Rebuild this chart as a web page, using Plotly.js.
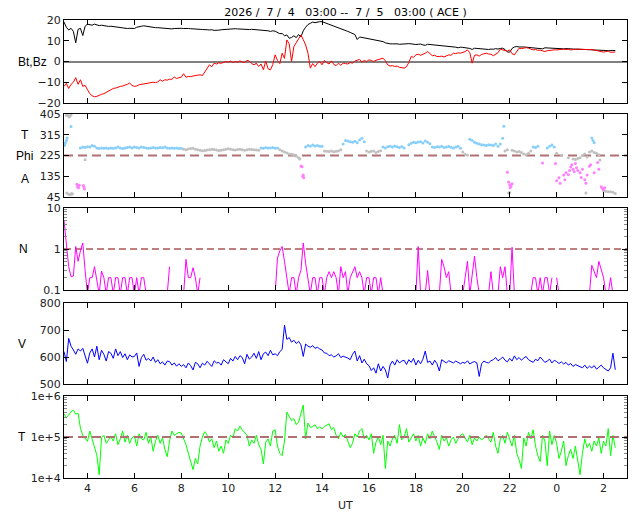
<!DOCTYPE html>
<html>
<head>
<meta charset="utf-8">
<script src="https://cdn.plot.ly/plotly-3.0.1.min.js"></script>
<style>
  html, body { margin: 0; padding: 0; background: #fff; }
  #chart { width: 640px; height: 512px; }
</style>
</head>
<body>
<div id="chart"></div>
<script>
// ACE solar wind summary, 2026/7/4 03:00 -- 7/5 03:00
// hours are counted from 00 UT on 7/4 (so 26 = 02 UT on 7/5)

const HOUR0 = 3;
const STEP = 0.1;

const xTickVals = [4, 6, 8, 10, 12, 14, 16, 18, 20, 22, 24, 26];
const xTickText = ['4', '6', '8', '10', '12', '14', '16', '18', '20', '22', '0', '2'];

// IMF magnitude (nT), one value per 6 min
const bt = [
  19.0, 16.5, 15.2, 16.0, 14.5, 9.0, 15.5, 16.0, 12.5, 17.0,
  18.0, 17.8, 17.5, 18.0, 17.6, 17.3, 17.5, 17.2, 17.0, 16.9,
  17.0, 16.8, 16.7, 16.5, 16.4, 16.2, 16.0, 15.9, 16.0, 15.8,
  15.9, 16.5, 16.6, 17.0, 17.2, 17.0, 16.6, 16.4, 16.2, 16.3,
  16.3, 16.2, 16.1, 15.9, 15.8, 15.6, 15.7, 15.9, 16.0, 16.0,
  16.0, 15.9, 16.0, 15.9, 15.8, 15.8, 15.8, 15.6, 15.5, 15.4,
  15.2, 15.3, 15.2, 15.3, 15.0, 14.9, 15.1, 15.3, 15.4, 15.6,
  15.6, 15.8, 15.8, 15.8, 15.7, 15.6, 15.7, 15.6, 15.5, 15.4,
  15.5, 15.4, 15.3, 15.1, 15.0, 15.2, 15.0, 14.8, 14.5, 14.8,
  14.6, 14.0, 13.4, 13.5, 12.4, 12.8, 11.2, 11.6, 12.4, 11.5,
  13.0, 11.8, 14.8, 16.5, 17.8, 18.4, 19.0, 18.7, 19.0, 19.2,
  19.2, 18.8, 18.4, 18.0, 17.6, 17.2, 16.8, 16.4, 15.8, 15.4,
  15.0, 14.5, 14.0, 13.6, 13.0, 10.6, 11.8, 11.6, 11.4, 11.2,
  11.0, 10.8, 10.6, 10.4, 10.2, 10.0, 9.6, 9.0, 8.6, 8.5,
  8.5, 8.6, 8.5, 8.3, 8.4, 8.6, 8.5, 8.6, 8.5, 8.3,
  8.2, 8.3, 8.4, 8.0, 7.8, 8.3, 8.2, 8.1, 7.9, 7.6,
  7.6, 7.5, 7.3, 7.2, 7.3, 7.0, 7.1, 6.9, 6.6, 6.9,
  6.8, 6.7, 6.5, 6.3, 5.8, 6.4, 6.3, 6.2, 6.0, 5.9,
  5.6, 5.8, 6.0, 5.9, 6.2, 6.0, 6.3, 6.4, 5.8, 4.6,
  4.5, 6.3, 7.0, 7.2, 7.0, 7.1, 7.0, 6.9, 6.8, 6.6,
  6.8, 6.5, 6.4, 6.3, 6.1, 6.6, 6.5, 6.4, 6.3, 6.4,
  6.2, 6.3, 6.2, 6.1, 6.2, 6.0, 6.1, 6.0, 6.0, 5.9,
  6.0, 5.9, 5.8, 5.8, 5.7, 5.6, 5.6, 5.4, 5.5, 5.3,
  5.4, 5.3, 5.2, 5.4, 5.3, 5.3
];

// IMF Bz (nT)
const bz = [
  -12.0, -10.5, -13.0, -11.0, -10.0, -7.8, -11.0, -8.8, -12.0, -11.5,
  -13.6, -15.5, -16.5, -17.0, -16.8, -16.2, -15.8, -15.5, -14.8, -14.2,
  -13.6, -13.0, -12.8, -12.3, -12.0, -11.8, -11.5, -11.0, -10.4, -11.5,
  -12.0, -11.8, -11.2, -11.0, -11.0, -10.8, -10.5, -10.4, -10.0, -10.2,
  -9.8, -8.8, -9.5, -8.8, -9.0, -8.5, -8.6, -7.5, -8.2, -7.8,
  -7.5, -5.9, -7.6, -7.2, -7.3, -7.0, -6.8, -6.5, -6.4, -6.8,
  -5.2, -3.0, -1.6, -2.5, -0.8, -1.2, -0.6, -0.9, -0.3, 0.0,
  -0.3, 0.2, -0.5, 0.0, -0.4, 0.3, -0.2, -0.5, 0.5, 0.2,
  -1.0, -1.6, -0.8, -2.4, -1.2, -4.0, 0.2, -3.5, -4.0, -1.5,
  3.2, 0.5, -1.0, 4.0, 1.5, 10.4, 8.5, 0.0, 7.2, 9.0,
  11.0, 12.8, 10.5, 8.0, 4.0, -3.2, -1.0, -2.5, -0.8, 0.0,
  -1.6, 0.5, -0.5, -1.2, 0.3, -1.4, -2.0, -0.8, -1.8, -0.8,
  -1.0, -1.2, -0.5, -0.8, 0.2, 0.6, 1.0, -0.3, 0.5, 0.0,
  0.8, 0.5, 0.0, 0.6, 1.0, 1.2, 1.6, 0.3, -1.6, -2.2,
  -2.0, -2.4, -2.2, -2.8, -3.0, -3.2, -2.5, -0.5, 2.4, 2.0,
  3.2, 3.5, 3.0, 3.4, 4.0, 4.8, 3.6, 2.8, 3.0, 2.4,
  2.4, 2.6, 2.2, 2.8, 3.2, 3.0, 4.0, 3.8, 4.2, 4.0,
  4.4, 4.8, 5.6, 4.2, -0.8, 3.0, 3.2, 2.6, 3.4, 3.8,
  4.0, 3.6, 3.5, 2.8, 3.4, 4.2, 5.9, 5.6, 5.4, 5.0,
  5.6, 3.8, 3.2, 5.0, 6.4, 6.2, 6.6, 6.7, 6.4, 6.0,
  5.6, 5.8, 5.4, 5.5, 5.2, 4.8, 5.2, 5.4, 5.5, 5.6,
  5.6, 5.8, 5.7, 5.9, 5.8, 5.9, 5.6, 5.8, 5.9, 6.0,
  5.9, 5.8, 6.0, 5.9, 5.7, 5.8, 5.6, 5.4, 5.2, 5.0,
  4.5, 4.8, 5.0, 4.4, 4.6, 4.6
];

// IMF phi angle (deg), split by sector colour
const phiTowardHours = [
  3.0, 3.03, 3.06, 3.1, 3.13, 3.3,
  3.7, 3.8, 3.9, 4.0, 4.1, 4.2, 4.3, 4.4, 4.5, 4.6, 4.7, 4.8, 4.9,
  5.0, 5.1, 5.2, 5.3, 5.4, 5.5, 5.6, 5.7, 5.8, 5.9,
  6.0, 6.1, 6.2, 6.3, 6.4, 6.5, 6.6, 6.7, 6.8, 6.9,
  7.0, 7.1, 7.2, 7.3, 7.4, 7.5, 7.6, 7.7, 7.8, 7.9, 8.0,
  11.4, 11.5, 11.6, 11.7, 11.8, 11.9, 12.0, 12.1,
  13.3, 13.4, 13.5, 13.6, 13.7, 13.8, 13.9, 14.0,
  14.9, 15.0, 15.1, 15.2, 15.3, 15.4, 15.5, 15.6, 15.7, 15.8,
  16.6, 16.7, 16.8, 16.9, 17.0, 17.1, 17.2, 17.3, 17.4, 17.5,
  17.7, 17.8, 17.9, 18.0, 18.1, 18.2, 18.3, 18.4, 18.5, 18.6,
  18.7, 18.8, 18.9, 19.0, 19.1, 19.2, 19.3, 19.4, 19.5, 19.6, 19.7, 19.8, 19.9,
  20.3, 20.4, 20.5, 20.6, 20.7, 20.8, 20.9, 21.0, 21.1, 21.2, 21.3, 21.4, 21.5, 21.6, 21.7, 21.75,
  23.0, 23.1, 23.2, 23.6, 23.7, 23.8, 23.9,
  25.5, 25.55, 25.6
];
const phiTowardVals = [
  268, 272, 280, 290, 301, 351,
  258, 262, 260, 263, 262, 268, 265, 258, 255, 258, 256, 258, 255,
  257, 256, 258, 262, 258, 255, 257, 260, 262, 258,
  262, 260, 258, 262, 260, 258, 256, 258, 260, 258,
  257, 260, 259, 262, 258, 256, 258, 256, 257, 255, 256,
  258, 256, 260, 258, 257, 260, 256, 258,
  262, 268, 265, 270, 266, 268, 265, 265,
  275, 290, 288, 285, 283, 287, 280, 292, 300, 285,
  262, 258, 263, 265, 262, 266, 263, 260, 264, 258,
  272, 278, 282, 280, 284, 285, 279, 288, 283, 276,
  262, 260, 263, 262, 265, 260, 262, 264, 261, 258, 262, 265, 256,
  295, 290, 282, 278, 275, 272, 270, 268, 272, 270, 268, 275, 265, 275, 300, 352,
  262, 260, 265, 258, 265, 270, 262,
  301, 290, 280
];

const phiMixedHours = [
  3.1, 3.15, 3.18, 3.22, 3.25, 3.3,
  3.12, 3.2, 3.27, 3.32, 3.36, 3.9,
  8.1, 8.2, 8.3, 8.4, 8.5, 8.6, 8.7, 8.8, 8.9,
  9.0, 9.1, 9.2, 9.3, 9.4, 9.5, 9.6, 9.7, 9.8, 9.9,
  10.0, 10.1, 10.2, 10.3, 10.4, 10.5, 10.6, 10.7, 10.8, 10.9,
  11.0, 11.1, 11.2, 11.3,
  12.2, 12.3, 12.4, 12.5, 12.6, 12.7, 12.8, 12.9, 13.0, 13.05,
  14.1, 14.2, 14.3, 14.4, 14.5, 14.6, 14.7, 14.8,
  15.9, 16.0, 16.1, 16.2, 16.3, 16.4, 16.5,
  20.0, 20.1, 20.2,
  21.8, 21.9, 21.95, 22.0,
  22.1, 22.2, 22.3, 22.4, 22.5, 22.6, 22.7, 22.8, 22.9,
  24.0, 24.2, 24.5, 24.7, 24.8, 24.9, 25.0, 25.1, 25.2, 25.25,
  25.3, 25.4, 25.5, 25.6, 25.7, 25.8, 25.85,
  26.0, 26.1, 26.2, 26.3, 26.4, 26.5
];
const phiMixedVals = [
  400, 405, 398, 392, 395, 402,
  62, 57, 55, 60, 58, 207,
  252, 250, 253, 255, 256, 252, 250, 248, 246,
  247, 249, 250, 252, 251, 249, 247, 248, 250, 252,
  254, 252, 250, 249, 251, 252, 250, 248, 250, 252,
  251, 250, 249, 248,
  250, 245, 240, 236, 232, 230, 228, 222, 215, 210,
  245, 243, 242, 244, 241, 243, 245, 250,
  245, 240, 243, 245, 238, 242, 246,
  240, 230, 226,
  245, 250, 62, 65,
  248, 245, 240, 242, 238, 232, 228, 235, 245,
  235, 226, 215, 210, 208, 212, 215, 225, 232, 62,
  218, 240, 245, 238, 235, 228, 205,
  72, 70, 68, 68, 66, 60
];

const phiAwayHours = [
  3.55, 3.58, 3.6, 3.62, 3.65, 3.83, 3.85, 3.87,
  13.1, 13.15, 13.18, 13.2, 13.22,
  21.9, 21.95, 22.0, 22.02, 22.05, 22.1,
  23.4, 23.95,
  24.0, 24.1, 24.15, 24.3, 24.35, 24.4, 24.5, 24.55, 24.6, 24.65,
  24.7, 24.75, 24.8, 24.85, 24.9, 25.0, 25.05, 25.1, 25.2, 25.25,
  25.3, 25.4, 25.45, 25.6, 25.75, 25.8, 25.9, 25.95, 26.0, 26.05
];
const phiAwayVals = [
  100, 88, 92, 85, 96, 95, 88, 80,
  180, 176, 135, 140, 128,
  152, 110, 98, 85, 92, 103,
  192, 190,
  115, 128, 105, 140, 120, 150, 142, 160, 175, 185,
  165, 155, 190, 172, 160, 150, 130, 165, 120, 105,
  140, 178, 185, 150, 195, 165, 90, 82, 78, 85
];

// proton density (/cc); 0.08 = below the plotted range, null = no data
const density = [
  5.0, 1.6, 0.37, 0.21, 0.22, 1.15, 0.5, 0.9, 1.4, 0.3,
  0.08, 0.2, 0.2, 0.37, 0.2, 0.08, 0.29, 0.2, 0.08, 0.2,
  0.2, 0.08, 0.2, 0.2, 0.08, 0.2, 0.2, 0.08, 0.2, 0.2,
  0.08, 0.2, 0.08, 0.2, 0.2, 0.08, null, null, null, null,
  null, null, null, null, 0.08, 0.37, null, null, 0.08, null,
  null, 0.08, 0.56, 0.2, 0.2, 0.35, 0.2, 0.08, 0.2, null,
  null, null, null, null, null, null, null, null, null, null,
  null, null, null, 0.08, null, null, 0.08, null, null, null,
  null, null, null, null, null, null, null, null, 0.2, null,
  0.08, 0.6, 0.9, 1.15, 0.5, 0.2, 0.08, 0.2, 0.2, 0.08,
  0.2, 0.3, 1.4, 0.45, 0.2, 0.08, 0.2, 0.2, 0.08, 0.2,
  0.2, 0.08, 0.2, 0.28, 0.2, 0.28, 0.2, 0.08, 0.37, 0.2,
  0.28, 0.08, 0.2, 0.28, 0.37, 0.2, 0.28, 0.2, 0.08, 0.2,
  0.2, 0.08, 0.2, 0.2, 0.08, 0.2, 0.08, null, null, null,
  null, 0.08, null, null, 0.08, null, null, null, null, null,
  0.08, 1.15, 0.08, null, 0.08, 0.3, 0.08, null, null, null,
  0.08, 0.56, 0.37, 0.2, 0.28, 0.08, null, null, null, 0.08,
  0.08, 0.2, 0.5, 0.08, 0.2, 0.67, 0.2, 0.08, null, null,
  null, 0.08, 0.28, 0.08, null, 0.08, 0.37, 0.2, 0.37, 0.08,
  0.08, 1.1, 0.08, null, null, null, null, null, null, 0.08,
  0.2, 0.2, 0.08, 0.2, 0.08, 0.2, 0.2, 0.08, 0.2, null,
  0.2, 0.08, null, null, null, null, null, null, null, null,
  null, null, null, 0.08, 0.08, 0.4, 0.28, 0.2, 0.5, 0.3,
  0.2, 0.08, 0.08, 0.2, 0.08, null
];

// bulk speed (km/s)
const speed = [
  620, 583, 669, 640, 626, 610, 630, 622, 632, 605,
  577, 615, 630, 600, 640, 590, 625, 610, 585, 620,
  614, 595, 630, 605, 620, 598, 612, 590, 608, 600,
  602, 615, 565, 598, 610, 588, 595, 585, 600, 580,
  590, 575, 582, 570, 585, 583, 570, 578, 566, 575,
  565, 572, 560, 578, 568, 552, 580, 575, 560, 577,
  570, 584, 575, 565, 586, 578, 580, 570, 590, 582,
  575, 595, 585, 602, 590, 605, 598, 575, 610, 592,
  600, 614, 595, 620, 590, 612, 618, 605, 625, 608,
  612, 605, 620, 628, 718, 665, 672, 655, 662, 650,
  658, 645, 602, 648, 640, 636, 642, 632, 636, 630,
  626, 615, 614, 605, 608, 600, 604, 612, 598, 603,
  600, 596, 590, 610, 622, 585, 605, 578, 592, 575,
  568, 550, 560, 540, 575, 548, 565, 552, 522, 570,
  585, 570, 590, 578, 585, 588, 572, 590, 580, 595,
  570, 588, 575, 592, 622, 580, 585, 570, 588, 575,
  548, 590, 584, 578, 586, 582, 578, 585, 580, 575,
  580, 577, 586, 574, 580, 583, 578, 528, 575, 585,
  580, 578, 586, 590, 598, 586, 592, 600, 588, 582,
  595, 585, 604, 590, 598, 588, 596, 602, 590, 585,
  580, 592, 586, 600, 590, 580, 585, 592, 578, 588,
  583, 576, 582, 574, 580, 570, 576, 565, 572, 568,
  566, 560, 570, 558, 566, 560, 568, 555, 562, 570,
  560, 553, 548, 560, 614, 553
];

// proton temperature (thousands of K)
const tempK = [
  370, 300, 340, 420, 450, 360, 380, 165, 110, 95,
  78, 140, 90, 60, 36, 12, 95, 110, 70, 85,
  100, 80, 120, 65, 90, 140, 75, 110, 70, 95,
  105, 60, 120, 90, 85, 130, 70, 100, 45, 80,
  110, 70, 95, 50, 33, 80, 140, 110, 120, 130,
  125, 90, 65, 40, 24, 16, 30, 22, 60, 100,
  135, 110, 75, 90, 55, 80, 45, 60, 40, 85,
  70, 110, 95, 160, 140, 185, 150, 130, 110, 60,
  85, 70, 110, 65, 50, 22, 75, 90, 60, 140,
  150, 60, 40, 35, 80, 407, 330, 250, 280, 200,
  230, 380, 600, 90, 220, 170, 180, 200, 160, 175,
  160, 180, 195, 210, 150, 170, 110, 90, 130, 100,
  115, 80, 55, 70, 120, 100, 140, 160, 90, 110,
  85, 120, 40, 75, 100, 65, 110, 17, 80, 60,
  90, 110, 70, 200, 85, 100, 160, 75, 95, 120,
  80, 110, 60, 95, 70, 120, 90, 140, 100, 75,
  50, 110, 80, 95, 60, 85, 100, 70, 90, 110,
  120, 95, 75, 110, 65, 95, 80, 100, 85, 95,
  110, 90, 75, 130, 60, 40, 90, 110, 70, 130,
  85, 60, 110, 40, 28, 17, 95, 60, 130, 90,
  150, 60, 35, 25, 110, 80, 20, 140, 65, 110,
  70, 30, 45, 80, 20, 35, 50, 30, 60, 25,
  12, 40, 90, 55, 70, 45, 80, 60, 95, 40,
  80, 60, 160, 35, 110, 55
];

const phiRef = 225;
const densityRef = 1;
const tempRef = 1e5;
const xRange = [3, 27];

function hours(n) {
  const out = [];
  for (let i = 0; i < n; i++) out.push(+(HOUR0 + i * STEP).toFixed(2));
  return out;
}

const tBt = hours(bt.length);
const tBz = hours(bz.length);
const tN = hours(density.length);
const tV = hours(speed.length);
const tT = hours(tempK.length);
const temperature = tempK.map(v => v * 1000);

const tickFont = { family: 'DejaVu Sans, sans-serif', size: 11, color: '#222' };
const labelFont = { family: 'Liberation Sans, Arial, sans-serif', size: 12, color: '#000' };

const traces = [
  { x: tBt, y: bt, xaxis: 'x', yaxis: 'y', mode: 'lines',
    line: { color: '#000000', width: 1 }, name: 'Bt' },
  { x: tBz, y: bz, xaxis: 'x', yaxis: 'y', mode: 'lines',
    line: { color: '#ff0000', width: 1 }, name: 'Bz' },

  { x: xRange, y: [phiRef, phiRef], xaxis: 'x2', yaxis: 'y2', mode: 'lines',
    line: { color: '#b07070', width: 2, dash: '9px,5px' }, hoverinfo: 'skip' },
  { x: phiMixedHours, y: phiMixedVals, xaxis: 'x2', yaxis: 'y2', mode: 'markers',
    marker: { color: '#c0c0c0', size: 3 }, name: 'Phi' },
  { x: phiTowardHours, y: phiTowardVals, xaxis: 'x2', yaxis: 'y2', mode: 'markers',
    marker: { color: '#87cefa', size: 3 }, name: 'Phi T' },
  { x: phiAwayHours, y: phiAwayVals, xaxis: 'x2', yaxis: 'y2', mode: 'markers',
    marker: { color: '#ff80ff', size: 3 }, name: 'Phi A' },

  { x: xRange, y: [densityRef, densityRef], xaxis: 'x3', yaxis: 'y3', mode: 'lines',
    line: { color: '#800000', width: 1, dash: '7px,4px' }, hoverinfo: 'skip' },
  { x: tN, y: density, xaxis: 'x3', yaxis: 'y3', mode: 'lines',
    line: { color: '#ff00ff', width: 1 }, name: 'N' },

  { x: tV, y: speed, xaxis: 'x4', yaxis: 'y4', mode: 'lines',
    line: { color: '#0000ff', width: 1 }, name: 'V' },

  { x: tT, y: temperature, xaxis: 'x5', yaxis: 'y5', mode: 'lines',
    line: { color: '#00ff00', width: 1 }, name: 'T' },
  { x: xRange, y: [tempRef, tempRef], xaxis: 'x5', yaxis: 'y5', mode: 'lines',
    line: { color: '#b07070', width: 2, dash: '9px,5px' }, hoverinfo: 'skip' }
];

function xAxis(anchor, labels) {
  return {
    anchor: anchor, range: xRange, matches: anchor === 'y' ? undefined : 'x',
    tickmode: 'array', tickvals: xTickVals, ticktext: xTickText,
    showticklabels: labels, ticks: 'inside', ticklen: 5, tickcolor: '#000',
    mirror: 'ticks', showline: true, linecolor: '#000', linewidth: 1,
    showgrid: false, zeroline: false, tickfont: tickFont
  };
}

function yAxis(anchor, domain, extra) {
  return Object.assign({
    anchor: anchor, domain: domain,
    ticks: 'inside', ticklen: 5, tickcolor: '#000',
    mirror: 'ticks', showline: true, linecolor: '#000', linewidth: 1,
    showgrid: false, zeroline: false, tickfont: tickFont, fixedrange: true
  }, extra);
}

// pixel helpers for the left-hand labels (plot area spans x 64..627, full height)
const px = x => (x - 64) / 563;
const py = y => 1 - y / 512;

const layout = {
  width: 640, height: 512,
  margin: { l: 64, r: 13, t: 0, b: 0 },
  paper_bgcolor: '#ffffff', plot_bgcolor: '#ffffff',
  showlegend: false,
  title: {
    text: '2026 /\u00a0\u00a07 /\u00a0\u00a04\u00a0\u00a0\u00a003:00 --\u00a0\u00a07 /\u00a0\u00a05\u00a0\u00a0\u00a003:00 ( ACE )',
    font: { family: 'DejaVu Sans, sans-serif', size: 11, color: '#000' },
    x: 0.5, xref: 'paper', y: 1 - 12 / 512, yref: 'container', yanchor: 'middle'
  },
  xaxis: xAxis('y', false),
  xaxis2: xAxis('y2', false),
  xaxis3: xAxis('y3', false),
  xaxis4: xAxis('y4', false),
  xaxis5: xAxis('y5', true),
  yaxis: yAxis('x', [py(103), py(20)], {
    range: [-20, 20], tickvals: [-20, -10, 0, 10, 20],
    zeroline: true, zerolinecolor: '#808080', zerolinewidth: 2
  }),
  yaxis2: yAxis('x2', [py(197), py(114)], {
    range: [45, 405], tickvals: [45, 135, 225, 315, 405]
  }),
  yaxis3: yAxis('x3', [py(290), py(208)], {
    type: 'log', range: [-1, 1], tickmode: 'array',
    tickvals: [0.1, 1, 10], ticktext: ['0.1', '1', '10'],
    minor: { ticks: 'inside', ticklen: 3, tickcolor: '#888', tickmode: 'array',
      tickvals: [0.2, 0.3, 0.4, 0.5, 0.6, 0.7, 0.8, 0.9, 2, 3, 4, 5, 6, 7, 8, 9] }
  }),
  yaxis4: yAxis('x4', [py(384), py(303)], {
    range: [500, 800], tickvals: [500, 600, 700, 800]
  }),
  yaxis5: yAxis('x5', [py(478), py(396)], {
    type: 'log', range: [4, 6], tickmode: 'array',
    tickvals: [1e4, 1e5, 1e6], ticktext: ['1e+4', '1e+5', '1e+6'],
    minor: { ticks: 'inside', ticklen: 3, tickcolor: '#888', tickmode: 'array',
      tickvals: [2e4, 3e4, 4e4, 5e4, 6e4, 7e4, 8e4, 9e4, 2e5, 3e5, 4e5, 5e5, 6e5, 7e5, 8e5, 9e5] }
  }),
  annotations: [
    { text: 'Bt,Bz', x: px(32), y: py(62) },
    { text: 'T', x: px(25), y: py(135) },
    { text: 'Phi', x: px(24), y: py(156) },
    { text: 'A', x: px(25), y: py(179) },
    { text: 'N', x: px(23), y: py(249) },
    { text: 'V', x: px(22), y: py(344) },
    { text: 'T', x: px(22), y: py(437) },
    { text: 'UT', x: px(345), y: py(505), font: tickFont }
  ].map(a => Object.assign({
    xref: 'paper', yref: 'paper', xanchor: 'center', yanchor: 'middle',
    showarrow: false, font: labelFont
  }, a))
};

Plotly.newPlot('chart', traces, layout, { staticPlot: true, displayModeBar: false });
</script>
</body>
</html>
